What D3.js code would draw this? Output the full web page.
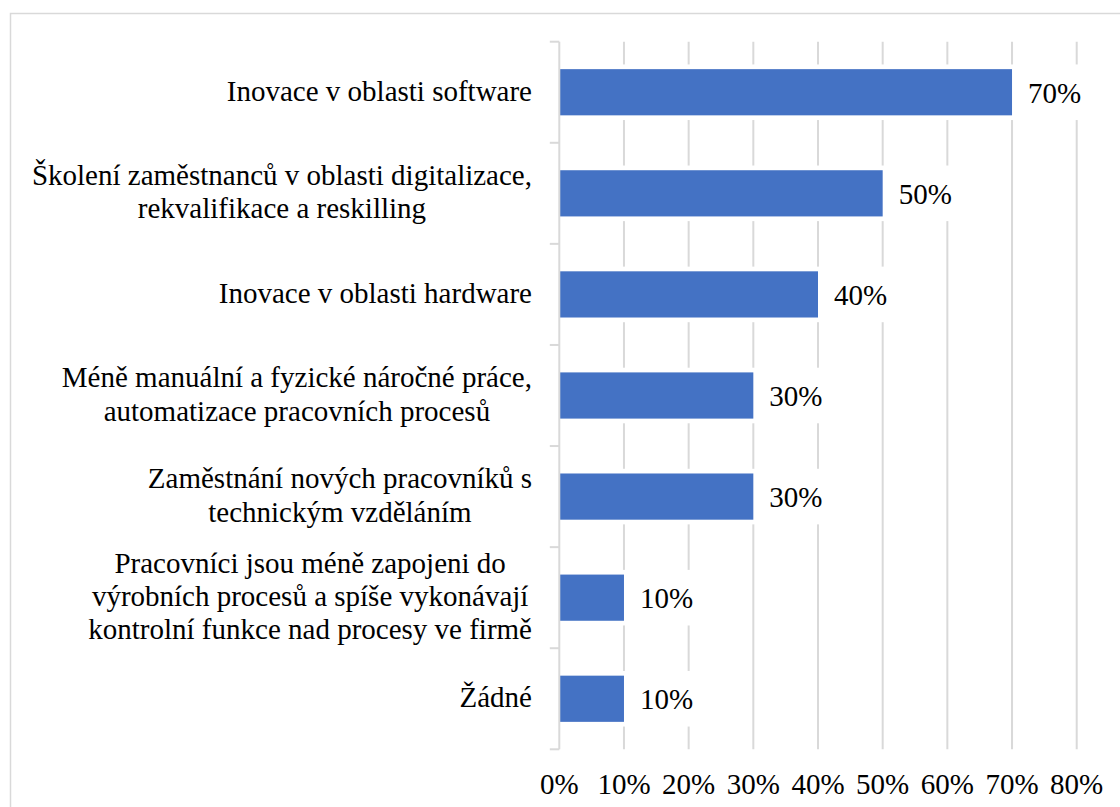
<!DOCTYPE html>
<html>
<head>
<meta charset="utf-8">
<script src="https://cdn.jsdelivr.net/npm/d3@7"></script>
<style>
  html, body { margin: 0; padding: 0; background: #fff; }
  svg { display: block; }
</style>
</head>
<body>
<svg id="chart" width="1120" height="807"></svg>
<script>
// Category labels (each entry is the list of wrapped lines) and their shares
const categories = [
  ["Inovace v oblasti software"],
  ["Školení zaměstnanců v oblasti digitalizace,", "rekvalifikace a reskilling"],
  ["Inovace v oblasti hardware"],
  ["Méně manuální a fyzické náročné práce,", "automatizace pracovních procesů"],
  ["Zaměstnání nových pracovníků s", "technickým vzděláním"],
  ["Pracovníci jsou méně zapojeni do", "výrobních procesů a spíše vykonávají", "kontrolní funkce nad procesy ve firmě"],
  ["Žádné"]
];
const values = [0.70, 0.50, 0.40, 0.30, 0.30, 0.10, 0.10];
const xTicks = [0, 0.1, 0.2, 0.3, 0.4, 0.5, 0.6, 0.7, 0.8];

const svg = d3.select("#chart");
const fontFamily = '"Liberation Serif"';
const fontSize = 29;
const lineHeight = 33.3;
const barColor = "#4472c4";
const gridColor = "#d9d9d9";
const labelRight = 532;
const halo = 4.7;

const rows = categories.map((lines, i) => ({ key: "c" + i, lines, value: values[i] }));

const x = d3.scaleLinear().domain([0, 0.8]).range([559.3, 1076.7]);
const y = d3.scaleBand()
  .domain(rows.map(d => d.key))
  .range([41.7, 749.3])
  .paddingInner(0.543)
  .paddingOuter(0.2715);

const plotTop = y.range()[0], plotBottom = y.range()[1];
const step = y.step();
const pct = d3.format(".0%");

function styleText(sel) {
  return sel.style("font-family", fontFamily)
    .attr("font-size", fontSize)
    .attr("fill", "#000");
}

// Chart frame
svg.append("rect")
  .attr("x", 10.5).attr("y", 13.5)
  .attr("width", 1200).attr("height", 1000)
  .attr("fill", "none").attr("stroke", gridColor).attr("stroke-width", 1.5);

// Vertical gridlines
svg.append("g").selectAll("line")
  .data(xTicks.slice(1))
  .join("line")
  .attr("x1", d => x(d)).attr("x2", d => x(d))
  .attr("y1", plotTop).attr("y2", plotBottom)
  .attr("stroke", gridColor).attr("stroke-width", 2);

// White clearance behind bars
svg.append("g").selectAll("rect")
  .data(rows)
  .join("rect")
  .attr("x", x(0))
  .attr("y", d => y(d.key) - halo)
  .attr("width", d => x(d.value) - x(0) + halo)
  .attr("height", y.bandwidth() + 2 * halo)
  .attr("fill", "#fff");

// Bars
svg.append("g").selectAll("rect")
  .data(rows)
  .join("rect")
  .attr("x", x(0))
  .attr("y", d => y(d.key))
  .attr("width", d => x(d.value) - x(0))
  .attr("height", y.bandwidth())
  .attr("fill", barColor);

// Value labels with white background
const valG = svg.append("g");
rows.forEach(d => {
  const cy = y(d.key) + y.bandwidth() / 2;
  const bg = valG.append("rect").attr("fill", "#fff");
  const t = styleText(valG.append("text"))
    .attr("x", x(d.value) + 16)
    .attr("y", cy + 10.6)
    .text(pct(d.value));
  const w = t.node().getComputedTextLength();
  bg.attr("x", x(d.value) + 13)
    .attr("y", y(d.key) - halo)
    .attr("width", w + 6)
    .attr("height", y.bandwidth() + 2 * halo);
});

// Category axis line and tick marks
const axisG = svg.append("g");
axisG.append("line")
  .attr("x1", x(0)).attr("x2", x(0))
  .attr("y1", plotTop).attr("y2", plotBottom)
  .attr("stroke", gridColor).attr("stroke-width", 2);
axisG.selectAll("line.tick")
  .data(d3.range(rows.length + 1))
  .join("line")
  .attr("class", "tick")
  .attr("x1", x(0) - 9.5).attr("x2", x(0))
  .attr("y1", i => plotTop + i * step).attr("y2", i => plotTop + i * step)
  .attr("stroke", gridColor).attr("stroke-width", 2);

// Category labels: lines centred on each other, block right-aligned
const catG = svg.append("g");
rows.forEach(d => {
  const cy = y(d.key) + y.bandwidth() / 2;
  const n = d.lines.length;
  const t = styleText(catG.append("text")).attr("text-anchor", "middle");
  const spans = d.lines.map((line, j) =>
    t.append("tspan")
      .attr("y", cy + 8.4 + (j - (n - 1) / 2) * lineHeight)
      .text(line));
  const maxW = d3.max(spans, s => s.node().getComputedTextLength());
  spans.forEach(s => s.attr("x", labelRight - maxW / 2));
});

// Value axis labels
styleText(svg.append("g").selectAll("text")
  .data(xTicks)
  .join("text"))
  .attr("x", d => x(d))
  .attr("y", 794)
  .attr("text-anchor", "middle")
  .text(d => pct(d));
</script>
</body>
</html>
